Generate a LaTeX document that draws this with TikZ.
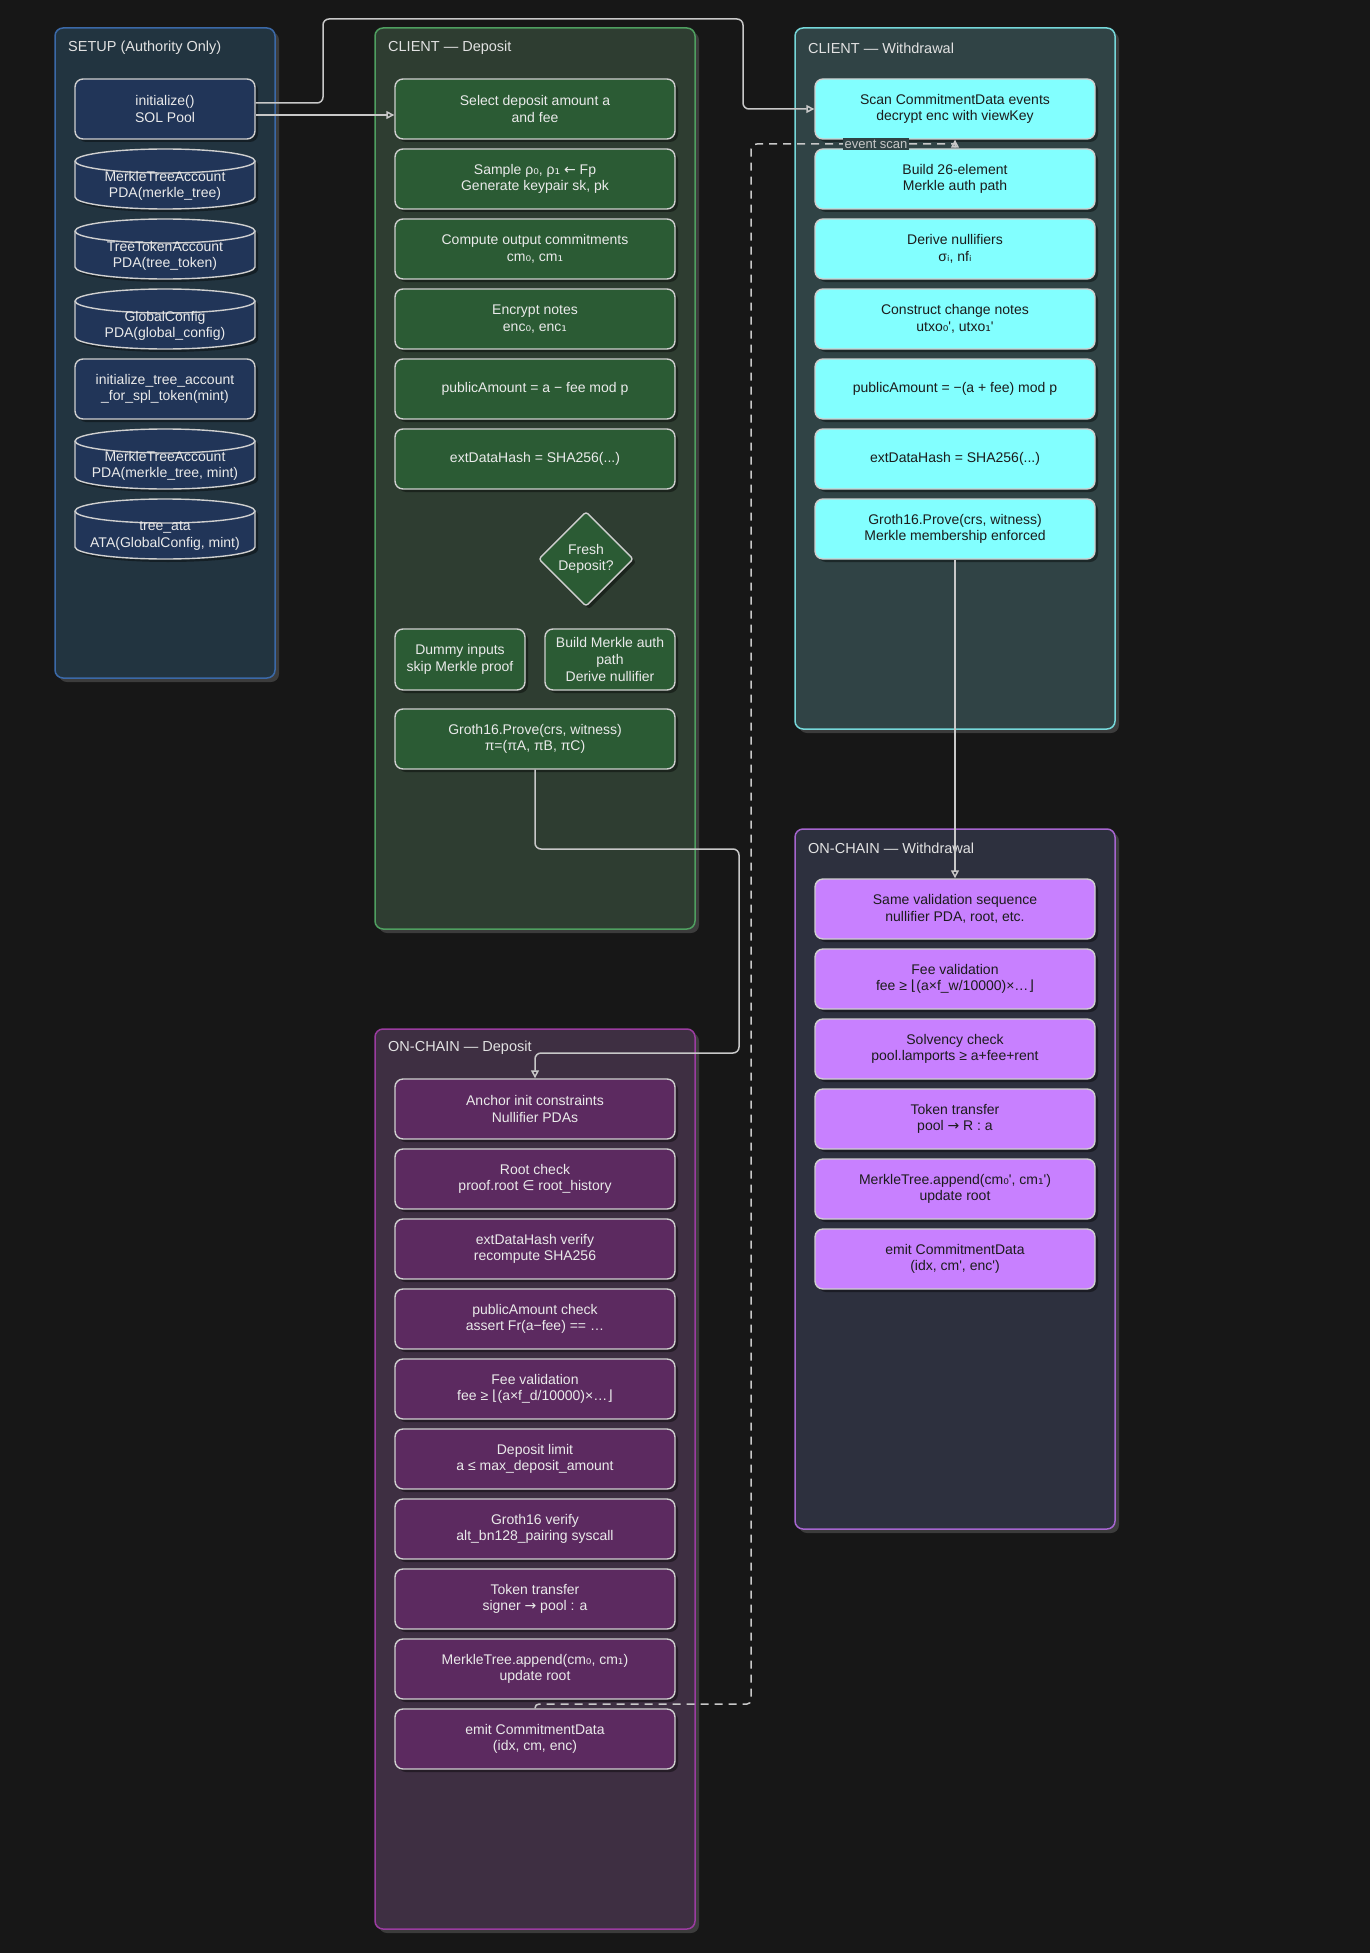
\documentclass[tikz,border=0pt]{standalone}
\usepackage{fontspec}
\setmainfont{Liberation Sans}
\newfontfamily\symf{DejaVu Sans}
\usetikzlibrary{shapes.geometric,arrows.meta,shadows}
\definecolor{bgc}{HTML}{171717}
\definecolor{shp}{HTML}{3C3C3C}
\definecolor{nodeb}{HTML}{CFCFCF}
\definecolor{conc}{HTML}{C8C8C8}
\definecolor{titc}{HTML}{E2E2E2}
\definecolor{lt}{HTML}{EAEAEA}
\definecolor{dk}{HTML}{1C1C1C}
\definecolor{sF}{HTML}{223440}
\definecolor{sB}{HTML}{3B69A8}
\definecolor{sN}{HTML}{213558}
\definecolor{cdF}{HTML}{2E3D31}
\definecolor{cdB}{HTML}{4F9F60}
\definecolor{cdN}{HTML}{2B5B34}
\definecolor{cwF}{HTML}{304345}
\definecolor{cwB}{HTML}{76D8DA}
\definecolor{cwN}{HTML}{82FFFF}
\definecolor{owF}{HTML}{2D303E}
\definecolor{owB}{HTML}{A665CF}
\definecolor{owN}{HTML}{C880FF}
\definecolor{odF}{HTML}{3E2F42}
\definecolor{odB}{HTML}{9B3CA0}
\definecolor{odN}{HTML}{5C2A60}
\newcommand\ap{\textquotesingle}
\newcommand\symc[1]{{\symf #1}}
\newcommand\mycyl[3]{%
  \filldraw[cylbody] (75,{-(#2)+18}) -- (75,{-(#2)-18})
     arc[start angle=180,end angle=360,x radius=90,y radius=12]
     -- (255,{-(#2)+18})
     arc[start angle=0,end angle=180,x radius=90,y radius=12] -- cycle;
  \draw[cylline] (75,{-(#2)+18}) arc[start angle=180,end angle=360,x radius=90,y radius=12];
  \node[cyltext] (#1) at (165,{-(#2)-7}) {#3};
}
\tikzset{
 panel/.style={rectangle, rounded corners=8, line width=1.5, inner sep=0, outer sep=0, anchor=north west,
   drop shadow={shadow xshift=4pt, shadow yshift=-4pt, fill=shp, opacity=1}},
 ptitle/.style={anchor=west, text=titc, font=\fontsize{14.5}{17}\selectfont, inner sep=0},
 box/.style={rectangle, rounded corners=8, draw=nodeb, line width=1.4, minimum width=280, minimum height=60,
   inner sep=2, align=center, font=\fontsize{14}{16.6}\selectfont,
   drop shadow={shadow xshift=3pt, shadow yshift=-3pt, fill=black, opacity=0.4}},
 sbox/.style={box, fill=sN, text=lt, minimum width=180},
 cdbox/.style={box, fill=cdN, text=lt},
 cwbox/.style={box, fill=cwN, text=dk},
 owbox/.style={box, fill=owN, text=dk},
 odbox/.style={box, fill=odN, text=lt},
 cylbody/.style={fill=sN, draw=nodeb, line width=1.4,
   drop shadow={shadow xshift=3pt, shadow yshift=-3pt, fill=black, opacity=0.4}},
 cylline/.style={draw=nodeb, line width=1.4},
 cyltext/.style={align=center, text=lt, font=\fontsize{14}{16.6}\selectfont, inner sep=0},
 conn/.style={draw=conc, line width=1.5, rounded corners=6, -{Triangle[open, length=8pt, width=8pt]}},
 dconn/.style={conn, dash pattern=on 8pt off 6pt},
 lbl/.style={fill=cwF, text=conc, font=\fontsize{13}{14}\selectfont, inner sep=1.5},
}
\begin{document}
\begin{tikzpicture}[x=1pt,y=1pt]
\fill[bgc] (0,0) rectangle (1370,-1953);
\useasboundingbox (0,0) rectangle (1370,-1953);

% ---------- panels ----------
\node[panel, draw=sB, fill=sF, minimum width=220, minimum height=650] (pS) at (55,-28) {};
\node[panel, draw=cdB, fill=cdF, minimum width=320, minimum height=901] (pCD) at (375,-28) {};
\node[panel, draw=cwB, fill=cwF, minimum width=320, minimum height=701] (pCW) at (795,-28) {};
\node[panel, draw=owB, fill=owF, minimum width=320, minimum height=700] (pOW) at (795,-829) {};
\node[panel, draw=odB, fill=odF, minimum width=320, minimum height=900] (pOD) at (375,-1029) {};

\node[ptitle] (tS) at ([xshift=13, yshift=-20]pS.north west) {SETUP (Authority Only)};
\node[ptitle] (tCD) at ([xshift=13, yshift=-20]pCD.north west) {CLIENT — Deposit};
\node[ptitle] (tCW) at ([xshift=13, yshift=-20]pCW.north west) {CLIENT — Withdrawal};
\node[ptitle] (tOW) at ([xshift=13, yshift=-19]pOW.north west) {ON-CHAIN — Withdrawal};
\node[ptitle] (tOD) at ([xshift=13, yshift=-19]pOD.north west) {ON-CHAIN — Deposit};

% ---------- setup ----------
\node[sbox] (s0) at (165,-109) {initialize()\\SOL Pool};
\mycyl{s1}{179}{MerkleTreeAccount\\PDA(merkle\_tree)}
\mycyl{s2}{249}{TreeTokenAccount\\PDA(tree\_token)}
\mycyl{s3}{319}{GlobalConfig\\PDA(global\_config)}
\node[sbox] (s4) at (165,-389) {initialize\_tree\_account\\\_for\_spl\_token(mint)};
\mycyl{s5}{459}{MerkleTreeAccount\\PDA(merkle\_tree, mint)}
\mycyl{s6}{529}{tree\_ata\\ATA(GlobalConfig, mint)}

% ---------- client deposit ----------
\node[cdbox] (d0) at (535,-109) {Select deposit amount a\\and fee};
\node[cdbox] (d1) at (535,-179) {Sample ρ\symc{₀}, ρ\symc{₁} \symc{←} Fp\\Generate keypair sk, pk};
\node[cdbox] (d2) at (535,-249) {Compute output commitments\\cm\symc{₀}, cm\symc{₁}};
\node[cdbox] (d3) at (535,-319) {Encrypt notes\\enc\symc{₀}, enc\symc{₁}};
\node[cdbox] (d4) at (535,-389) {publicAmount = a − fee mod p};
\node[cdbox] (d5) at (535,-459) {extDataHash = SHA256(...)};
\node[diamond, aspect=1, minimum width=95, minimum height=95, inner sep=0, draw=nodeb, line width=1.4,
  fill=cdN, text=lt, align=center, rounded corners=3, font=\fontsize{14}{16.6}\selectfont,
  drop shadow={shadow xshift=3pt, shadow yshift=-3pt, fill=black, opacity=0.4}] (d6) at (586,-559) {Fresh\\Deposit?};
\node[cdbox, minimum width=130, minimum height=61] (d7a) at (460,-659.5) {Dummy inputs\\skip Merkle proof};
\node[cdbox, minimum width=130, minimum height=61] (d7b) at (610,-659.5) {Build Merkle auth\\path\\Derive nullifier};
\node[cdbox] (d8) at (535,-739) {Groth16.Prove(crs, witness)\\π=(πA, πB, πC)};

% ---------- client withdrawal ----------
\node[cwbox] (w0) at (955,-109) {Scan CommitmentData events\\decrypt enc with viewKey};
\node[cwbox] (w1) at (955,-179) {Build 26-element\\Merkle auth path};
\node[cwbox] (w2) at (955,-249) {Derive nullifiers\\σ\symc{ᵢ}, nf\symc{ᵢ}};
\node[cwbox] (w3) at (955,-319) {Construct change notes\\utxo\symc{₀}\ap, utxo\symc{₁}\ap};
\node[cwbox] (w4) at (955,-389) {publicAmount = −(a + fee) mod p};
\node[cwbox] (w5) at (955,-459) {extDataHash = SHA256(...)};
\node[cwbox] (w6) at (955,-529) {Groth16.Prove(crs, witness)\\Merkle membership enforced};

% ---------- on-chain withdrawal ----------
\node[owbox] (v0) at (955,-909) {Same validation sequence\\nullifier PDA, root, etc.};
\node[owbox] (v1) at (955,-979) {Fee validation\\fee ≥ \symc{⌊}(a×f\_w/10000)×…\symc{⌋}};
\node[owbox] (v2) at (955,-1049) {Solvency check\\pool.lamports ≥ a+fee+rent};
\node[owbox] (v3) at (955,-1119) {Token transfer\\pool \symc{→} R : a};
\node[owbox] (v4) at (955,-1189) {MerkleTree.append(cm\symc{₀}\ap, cm\symc{₁}\ap)\\update root};
\node[owbox] (v5) at (955,-1259) {emit CommitmentData\\(idx, cm\ap, enc\ap)};

% ---------- on-chain deposit ----------
\node[odbox] (o0) at (535,-1109) {Anchor init constraints\\Nullifier PDAs};
\node[odbox] (o1) at (535,-1179) {Root check\\proof.root \symc{∈} root\_history};
\node[odbox] (o2) at (535,-1249) {extDataHash verify\\recompute SHA256};
\node[odbox] (o3) at (535,-1319) {publicAmount check\\assert Fr(a−fee) == …};
\node[odbox] (o4) at (535,-1389) {Fee validation\\fee ≥ \symc{⌊}(a×f\_d/10000)×…\symc{⌋}};
\node[odbox] (o5) at (535,-1459) {Deposit limit\\a ≤ max\_deposit\_amount};
\node[odbox] (o6) at (535,-1529) {Groth16 verify\\alt\_bn128\_pairing syscall};
\node[odbox] (o7) at (535,-1599) {Token transfer\\signer \symc{→} pool : a};
\node[odbox] (o8) at (535,-1669) {MerkleTree.append(cm\symc{₀}, cm\symc{₁})\\update root};
\node[odbox] (o9) at (535,-1739) {emit CommitmentData\\(idx, cm, enc)};

% ---------- connectors ----------
\draw[conn] ([yshift=6]s0.east) -| (323,-19) -| (743,-109) -- (w0.west);
\draw[conn] ([yshift=-6]s0.east) -- ([yshift=-6]d0.west);
\draw[conn] (d8.south) |- (739,-849) |- (535,-1053) -- (o0.north);
\draw[conn] (w6.south) -- (v0.north);
\draw[dconn] (o9.north) [rounded corners=4] |- (751,-1704) [rounded corners=6] -- (751,-144) [sharp corners] -- (955,-144) -- (w0.south);
\node[lbl] (ev) at (876,-144) {event scan};
\end{tikzpicture}
\end{document}
